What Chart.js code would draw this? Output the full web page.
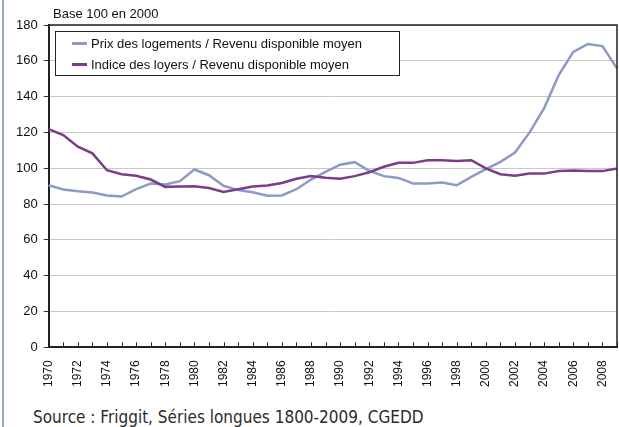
<!DOCTYPE html>
<html>
<head>
<meta charset="utf-8">
<script src="https://cdn.jsdelivr.net/npm/chart.js@4.4.1/dist/chart.umd.min.js"></script>
<style>
  body { margin: 0; background: #fff; }
  #wrap { position: relative; width: 619px; height: 427px; overflow: hidden; font-family: "Liberation Sans", Arial, sans-serif; }
  #leftBar { position: absolute; left: 2px; top: 0; width: 2px; height: 427px; background: #9aa5cf; }
  #base { position: absolute; left: 53px; top: 6px; font-size: 13px; color: #111; }
  #legend { position: absolute; left: 55px; top: 31px; width: 343px; height: 43px; border: 1px solid #222; background: #fff; font-size: 13px; color: #111; }
  .item { position: absolute; left: 16px; height: 16px; line-height: 16px; white-space: nowrap; }
  .swatch { display: inline-block; width: 15px; height: 3px; vertical-align: middle; margin-right: 4px; position: relative; top: -1px; }
  #source { position: absolute; left: 33px; top: 407px; font-family: "DejaVu Sans Condensed", "DejaVu Sans", sans-serif; font-size: 17px; color: #2b2b2b; white-space: nowrap; }
  canvas { position: absolute; left: 0; top: 0; }
</style>
</head>
<body>
<div id="wrap">
  <canvas id="lineChart" width="619" height="400"></canvas>
  <div id="leftBar"></div>
  <div id="base">Base 100 en 2000</div>
  <div id="legend">
    <div class="item" style="top:4px"><span class="swatch" style="background:#8c9ac8"></span>Prix des logements / Revenu disponible moyen</div>
    <div class="item" style="top:25px"><span class="swatch" style="background:#7b3d8a"></span>Indice des loyers / Revenu disponible moyen</div>
  </div>
  <div id="source">Source : Friggit, Séries longues 1800-2009, CGEDD</div>
</div>
<script>
const years = [];
for (let y = 1970; y <= 2009; y++) years.push(String(y));

// base 100 en 2000
const prixLogements = [
  90.5, 88.1, 87.2, 86.5, 84.8, 84.2, 88.3, 91.5, 90.9, 92.8,
  99.3, 96.1, 90.2, 87.8, 86.6, 84.6, 84.8, 88.3, 93.7, 98.0,
  102.0, 103.4, 98.6, 95.6, 94.6, 91.5, 91.5, 92.0, 90.5, 95.2,
  99.5, 103.6, 108.8, 120.0, 133.6, 152.0, 165.0, 169.4, 168.2, 155.8
];
const indiceLoyers = [
  121.9, 118.5, 112.0, 108.3, 98.9, 96.7, 95.8, 93.7, 89.6, 89.8,
  90.0, 89.0, 86.8, 88.3, 89.8, 90.4, 91.8, 94.1, 95.6, 94.7,
  94.1, 95.6, 97.8, 100.8, 103.0, 103.0, 104.4, 104.4, 104.0, 104.5,
  99.9, 96.7, 95.8, 97.1, 97.0, 98.4, 98.7, 98.4, 98.4, 99.9
];

// frame on top/right + small inward ticks on the x axis
const framePlugin = {
  id: 'frame',
  afterDatasetsDraw(chart) {
    const { ctx, chartArea: a, scales } = chart;
    ctx.save();
    ctx.strokeStyle = '#222';
    ctx.lineWidth = 1.5;
    ctx.beginPath();
    ctx.moveTo(a.left, a.top);
    ctx.lineTo(a.right, a.top);
    ctx.lineTo(a.right, a.bottom);
    ctx.stroke();
    ctx.lineWidth = 1;
    ctx.beginPath();
    scales.x.ticks.forEach((t, i) => {
      const x = Math.round(scales.x.getPixelForTick(i)) + 0.5;
      ctx.moveTo(x, a.bottom);
      ctx.lineTo(x, a.bottom - 5);
    });
    ctx.stroke();
    ctx.restore();
  }
};

new Chart(document.getElementById('lineChart').getContext('2d'), {
  type: 'line',
  data: {
    labels: years,
    datasets: [{
      label: 'Prix des logements / Revenu disponible moyen',
      data: prixLogements,
      borderColor: '#8c9ac8',
      borderWidth: 2.5,
      pointRadius: 0,
      tension: 0,
      order: 1
    }, {
      label: 'Indice des loyers / Revenu disponible moyen',
      data: indiceLoyers,
      borderColor: '#7b3d8a',
      borderWidth: 2.5,
      pointRadius: 0,
      tension: 0,
      order: 0
    }]
  },
  options: {
    responsive: false,
    animation: false,
    layout: { padding: { left: 10, right: 2, top: 25, bottom: 0 } },
    plugins: { legend: { display: false }, tooltip: { enabled: false } },
    scales: {
      x: {
        offset: false,
        grid: { drawOnChartArea: false, drawTicks: false },
        border: { color: '#222', width: 2 },
        ticks: {
          autoSkip: false,
          minRotation: 90,
          maxRotation: 90,
          padding: 13,
          color: '#111',
          font: { family: 'Liberation Sans', size: 12 },
          callback: function (v, i) { return i % 2 === 0 ? this.getLabelForValue(v) : ''; }
        },
        afterFit(scale) { scale.paddingRight = 0; scale.paddingLeft = 0; }
      },
      y: {
        min: 0,
        max: 180,
        grid: { color: '#c8c8c8', lineWidth: 1, tickLength: 5, tickColor: '#333' },
        border: { color: '#222', width: 2 },
        ticks: {
          stepSize: 20,
          padding: 6,
          color: '#111',
          font: { family: 'Liberation Sans', size: 13 }
        }
      }
    }
  },
  plugins: [framePlugin]
});
</script>
</body>
</html>
